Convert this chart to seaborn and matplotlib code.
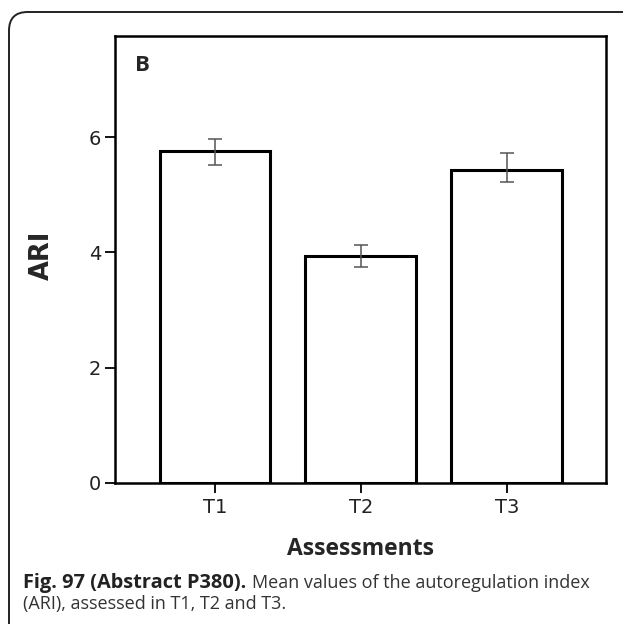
import numpy as np
import pandas as pd
import matplotlib
matplotlib.use("Agg")
import matplotlib.pyplot as plt
import seaborn as sns
from matplotlib.patches import FancyBboxPatch

# data
assessments = ["T1", "T2", "T3"]
ari_mean = [5.75, 3.93, 5.43]
err_low = [0.23, 0.19, 0.21]
err_high = [0.21, 0.19, 0.29]

df = pd.DataFrame({"Assessments": assessments, "ARI": ari_mean})

sns.set_style("white")
plt.rcParams["font.family"] = ["Open Sans", "DejaVu Sans"]

fig = plt.figure(figsize=(6.23, 6.24), dpi=100)
ax = fig.add_axes([0.1846, 0.226, 0.788, 0.716])

sns.barplot(data=df, x="Assessments", y="ARI", color="white", edgecolor="black",
            linewidth=2.2, width=0.76, errorbar=None, ax=ax)
ax.errorbar(np.arange(len(assessments)), ari_mean, yerr=[err_low, err_high],
            fmt="none", ecolor="#555555", elinewidth=1.1, capsize=5, capthick=1.1)

ax.set_xlim(-0.685, 2.68)
ax.set_ylim(0, 7.75)
ax.set_yticks([0, 2, 4, 6])
for s in ax.spines.values():
    s.set_linewidth(1.8)
    s.set_color("black")
ax.tick_params(axis="both", which="both", direction="out", length=7, width=1.3,
               labelsize=14, colors="black", labelcolor="#222222", left=True, bottom=True)
ax.tick_params(axis="y", pad=3)
ax.tick_params(axis="x", pad=4)
for lab in ax.get_xticklabels() + ax.get_yticklabels():
    lab.set_family("DejaVu Sans")

ax.set_ylabel("ARI", fontsize=18.5, fontweight="bold", family="DejaVu Sans")
ax.yaxis.set_label_coords(-0.122, 0.51)
ax.set_xlabel("Assessments", fontsize=16.5, fontweight="bold")
ax.xaxis.set_label_coords(0.5, -0.122)

ax.text(0.041, 0.935, "B", transform=ax.transAxes, fontsize=16, fontweight="bold", va="center")

# outer frame with rounded corner
box = FancyBboxPatch((9 / 623, -30 / 624), 660 / 623, (624 - 12 + 30) / 624,
                     boxstyle="round,pad=0,rounding_size=0.03", transform=fig.transFigure,
                     fill=False, edgecolor="#222222", linewidth=1.4, clip_on=False)
fig.patches.append(box)

y1 = 1 - 583 / 624
y2 = 1 - 604 / 624
cap_x = 23 / 623
cap_bold = fig.text(cap_x, y1, "Fig. 97 (Abstract P380).", fontsize=14.4,
                    fontweight="bold", color="#222222", va="center")
fig.canvas.draw()
bb = cap_bold.get_window_extent(fig.canvas.get_renderer())
fig.text((bb.x1 + 6) / 623, y1, "Mean values of the autoregulation index", fontsize=13.0,
         color="#333333", va="center")
fig.text(cap_x, y2, "(ARI), assessed in T1, T2 and T3.", fontsize=13.0,
         color="#333333", va="center")

fig.savefig("out.png", dpi=100)
